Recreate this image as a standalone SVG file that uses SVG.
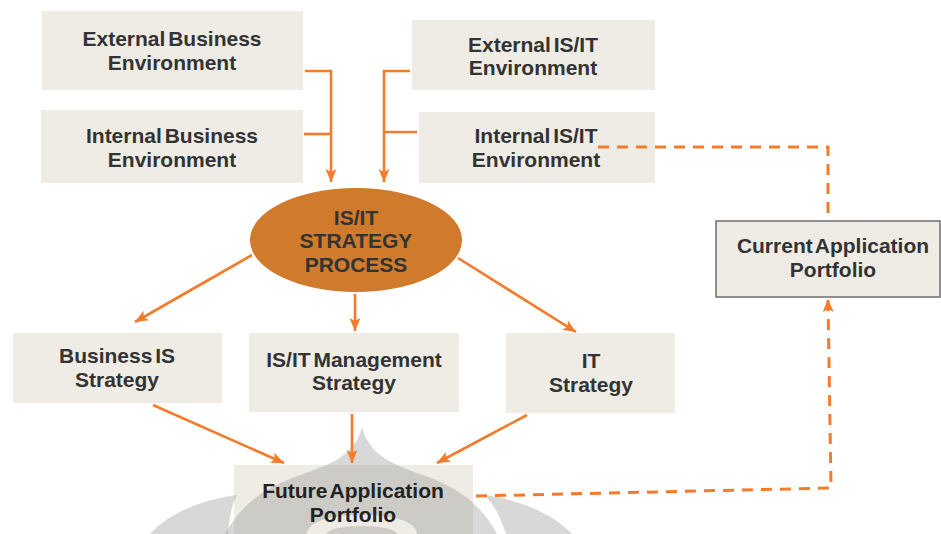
<svg xmlns="http://www.w3.org/2000/svg" width="941" height="534" viewBox="0 0 941 534">
  <defs>
    <style>
      .box { fill: #EEECE5; }
      .lbl { font-family: "Liberation Sans", Arial, sans-serif; font-weight: bold; font-size: 21px; fill: #333333; text-anchor: middle; word-spacing: -3px; }
      .dark { fill: #222222; }
      .link { fill: none; stroke: #F47B2C; stroke-width: 2.6; }
      .dash { fill: none; stroke: #F47B2C; stroke-width: 3; stroke-dasharray: 11 8; }
      .mark { fill: #8a8a8a; fill-opacity: 0.33; fill-rule: evenodd; }
    </style>
    <marker id="arrow" markerUnits="userSpaceOnUse" markerWidth="14" markerHeight="14" viewBox="0 0 14 14" refX="13" refY="7" orient="auto">
      <path d="M0,1.5 L13,7 L0,12.5 L3,7 Z" fill="#F47B2C"/>
    </marker>
  </defs>

  <rect width="941" height="534" fill="#FFFFFF"/>

  <!-- environment inputs -->
  <g id="ext-business">
    <rect class="box" x="42" y="11" width="261" height="79"/>
    <text class="lbl" x="172" y="46">External Business</text>
    <text class="lbl" x="172" y="70">Environment</text>
  </g>
  <g id="int-business">
    <rect class="box" x="41" y="110" width="262" height="73"/>
    <text class="lbl" x="172" y="143">Internal Business</text>
    <text class="lbl" x="172" y="167">Environment</text>
  </g>
  <g id="ext-isit">
    <rect class="box" x="412" y="20" width="243" height="70"/>
    <text class="lbl" x="533" y="52">External IS/IT</text>
    <text class="lbl" x="533" y="75">Environment</text>
  </g>
  <g id="int-isit">
    <rect class="box" x="419" y="112" width="236" height="71"/>
    <text class="lbl" x="536" y="143">Internal IS/IT</text>
    <text class="lbl" x="536" y="167">Environment</text>
  </g>

  <!-- central process -->
  <g id="strategy-process">
    <ellipse cx="356" cy="240" rx="106" ry="52" fill="#D07A2B"/>
    <text class="lbl" x="356" y="225">IS/IT</text>
    <text class="lbl" x="356" y="248">STRATEGY</text>
    <text class="lbl" x="356" y="272">PROCESS</text>
  </g>

  <!-- strategy outputs -->
  <g id="business-is">
    <rect class="box" x="13" y="333" width="209" height="70"/>
    <text class="lbl" x="117" y="363">Business IS</text>
    <text class="lbl" x="117" y="387">Strategy</text>
  </g>
  <g id="isit-management">
    <rect class="box" x="249" y="333" width="210" height="79"/>
    <text class="lbl" x="354" y="367">IS/IT Management</text>
    <text class="lbl" x="354" y="390">Strategy</text>
  </g>
  <g id="it-strategy">
    <rect class="box" x="506" y="333" width="169" height="80"/>
    <text class="lbl" x="591" y="368">IT</text>
    <text class="lbl" x="591" y="392">Strategy</text>
  </g>

  <g id="current-portfolio">
    <rect class="box" x="716" y="221" width="224" height="76" stroke="#6E6E6E" stroke-width="1.5"/>
    <text class="lbl" x="833" y="253">Current Application</text>
    <text class="lbl" x="833" y="277">Portfolio</text>
  </g>

  <g id="future-portfolio">
    <rect class="box" x="234" y="465" width="239" height="75"/>
    <!-- faint emblem: sits over the box but under its label -->
    <g id="emblem">
      <path class="mark" d="M362,427 C368,452 388,463 420,474 C455,486 480,502 497,534 L225,534 C242,502 268,486 303,474 C336,463 356,452 362,427 Z M307,534 C307,522 330,515 362,515 C394,515 417,522 417,534 Z M327,534 C327,529 345,526 362,526 C379,526 397,529 397,534 Z"/>
      <path class="mark" d="M237,495 C200,500 168,514 150,534 L228,534 C229,520 231,506 237,495 Z"/>
      <path class="mark" d="M484,495 C521,500 553,514 572,534 L506,534 C501,519 495,505 484,495 Z"/>
    </g>
    <text class="lbl dark" x="353" y="498">Future Application</text>
    <text class="lbl dark" x="353" y="522">Portfolio</text>
  </g>

  <!-- connectors -->
  <g id="connectors">
    <path class="link" d="M305,71 H331 V182" marker-end="url(#arrow)"/>
    <path class="link" d="M304,134 H331"/>
    <path class="link" d="M410,71 H384 V182" marker-end="url(#arrow)"/>
    <path class="link" d="M417,132 H384"/>

    <line class="link" x1="252" y1="255" x2="135" y2="322" marker-end="url(#arrow)"/>
    <line class="link" x1="355" y1="294" x2="355" y2="331" marker-end="url(#arrow)"/>
    <line class="link" x1="458" y1="258" x2="576" y2="332" marker-end="url(#arrow)"/>

    <line class="link" x1="153" y1="405" x2="284" y2="463" marker-end="url(#arrow)"/>
    <line class="link" x1="352" y1="414" x2="352" y2="463" marker-end="url(#arrow)"/>
    <line class="link" x1="527" y1="415" x2="437" y2="463" marker-end="url(#arrow)"/>

    <path class="dash" d="M598,147 H828 V221"/>
    <path class="dash" d="M476,496 L831,488 L828,299" marker-end="url(#arrow)"/>
  </g>
</svg>
